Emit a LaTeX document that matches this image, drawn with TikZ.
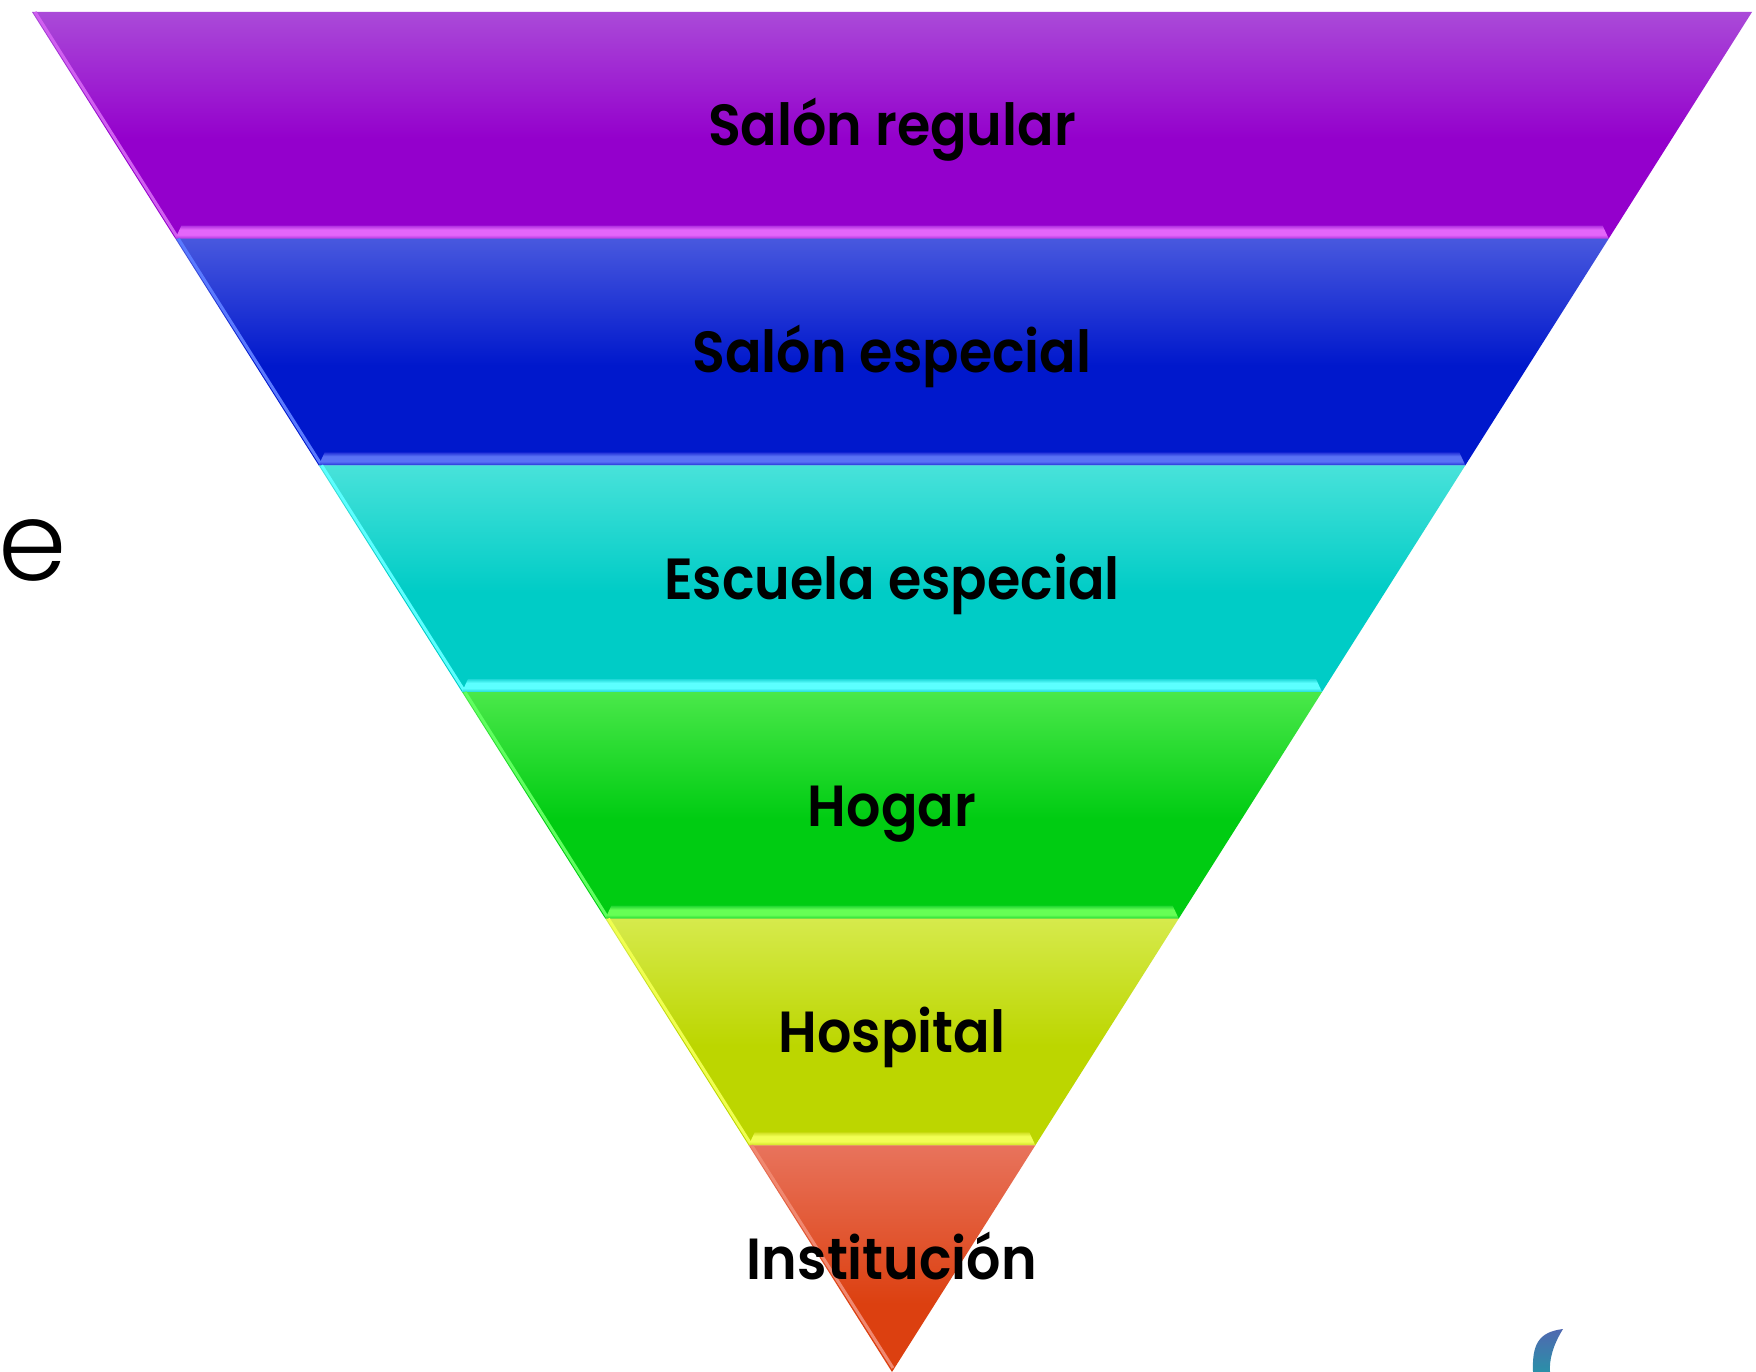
\documentclass[tikz,border=0pt]{standalone}
\usepackage{fontspec}
\newfontfamily\pops{Poppins}[UprightFont=* SemiBold]
\newfontfamily\popl{Poppins}[UprightFont=* Light]
\definecolor{puL}{HTML}{AA4AD8}\definecolor{puD}{HTML}{9400CC}\definecolor{puS}{HTML}{E466FA}\definecolor{puSd}{HTML}{B030E0}\definecolor{puE}{HTML}{D060F0}
\definecolor{buL}{HTML}{4858DE}\definecolor{buD}{HTML}{0018CC}\definecolor{buS}{HTML}{5A72F5}\definecolor{buSd}{HTML}{2030D8}\definecolor{buE}{HTML}{5A7AFF}
\definecolor{cyL}{HTML}{48E2DA}\definecolor{cyD}{HTML}{00CCC6}\definecolor{cyS}{HTML}{5CFFFF}\definecolor{cySd}{HTML}{20D8D8}\definecolor{cyE}{HTML}{5CFFFF}
\definecolor{grL}{HTML}{4AE84A}\definecolor{grD}{HTML}{00CC12}\definecolor{grS}{HTML}{66FF55}\definecolor{grSd}{HTML}{20D830}\definecolor{grE}{HTML}{60FF60}
\definecolor{yeL}{HTML}{D6EA4C}\definecolor{yeD}{HTML}{BCD600}\definecolor{yeS}{HTML}{F2FF55}\definecolor{yeSd}{HTML}{D0E020}\definecolor{yeE}{HTML}{F0FF50}
\definecolor{orL}{HTML}{E8735C}\definecolor{orD}{HTML}{DC4010}\definecolor{orE}{HTML}{F08870}
\definecolor{tealT}{HTML}{5068B0}\definecolor{tealB}{HTML}{2A90A8}
\pgfdeclareverticalshading{shpu}{100bp}{color(0bp)=(puD); color(25bp)=(puD); color(47bp)=(puD); color(75bp)=(puL); color(100bp)=(puL)}
\pgfdeclareverticalshading{shbu}{100bp}{color(0bp)=(buD); color(25bp)=(buD); color(47bp)=(buD); color(75bp)=(buL); color(100bp)=(buL)}
\pgfdeclareverticalshading{shcy}{100bp}{color(0bp)=(cyD); color(25bp)=(cyD); color(47bp)=(cyD); color(75bp)=(cyL); color(100bp)=(cyL)}
\pgfdeclareverticalshading{shgr}{100bp}{color(0bp)=(grD); color(25bp)=(grD); color(47bp)=(grD); color(75bp)=(grL); color(100bp)=(grL)}
\pgfdeclareverticalshading{shye}{100bp}{color(0bp)=(yeD); color(25bp)=(yeD); color(47bp)=(yeD); color(75bp)=(yeL); color(100bp)=(yeL)}
\pgfdeclareverticalshading{shor}{100bp}{color(0bp)=(orD); color(25bp)=(orD); color(40bp)=(orD); color(75bp)=(orL); color(100bp)=(orL)}
\pgfdeclareverticalshading{shpuS}{100bp}{color(0bp)=(puSd); color(25bp)=(puSd); color(40bp)=(puS); color(60bp)=(puS); color(75bp)=(puSd); color(100bp)=(puSd)}
\pgfdeclareverticalshading{shbuS}{100bp}{color(0bp)=(buSd); color(25bp)=(buSd); color(40bp)=(buS); color(60bp)=(buS); color(75bp)=(buSd); color(100bp)=(buSd)}
\pgfdeclareverticalshading{shcyS}{100bp}{color(0bp)=(cySd); color(25bp)=(cySd); color(40bp)=(cyS); color(60bp)=(cyS); color(75bp)=(cySd); color(100bp)=(cySd)}
\pgfdeclareverticalshading{shgrS}{100bp}{color(0bp)=(grSd); color(25bp)=(grSd); color(40bp)=(grS); color(60bp)=(grS); color(75bp)=(grSd); color(100bp)=(grSd)}
\pgfdeclareverticalshading{shyeS}{100bp}{color(0bp)=(yeSd); color(25bp)=(yeSd); color(40bp)=(yeS); color(60bp)=(yeS); color(75bp)=(yeSd); color(100bp)=(yeSd)}
\newcommand\lbltxt[1]{\scalebox{0.93}[1]{#1}}
\begin{document}
\begin{tikzpicture}[x=1pt,y=-1pt,
  lbl/.style={font=\pops\fontsize{58}{60}\selectfont, text=black, inner sep=0, anchor=base}]
\useasboundingbox (0,0) rectangle (1756,1372);
\fill[white] (0,0) rectangle (1756,1372);
% bands
\foreach \yT/\yB/\hT/\hB/\cc in {12/238.67/860/716.67/pu, 238.67/465.33/716.67/573.33/bu, 465.33/692/573.33/430/cy, 692/918.67/430/286.67/gr, 918.67/1145.33/286.67/143.33/ye}{
  \shade[shading=sh\cc] ({892-\hT},\yT) -- ({892+\hT},\yT) -- ({892+\hB},\yB) -- ({892-\hB},\yB) -- cycle;
  \draw[\cc E, line width=3pt] ({892-\hT+3},\yT) -- ({892-\hB+3},\yB);
  \shade[shading=sh\cc S] ({892-\hB},\yB) -- ({892-\hB+6},{\yB-13}) -- ({892+\hB-6},{\yB-13}) -- ({892+\hB},\yB) -- cycle;
}
\shade[shading=shor] (748.67,1145.33) -- (1035.33,1145.33) -- (892,1372) -- cycle;
\draw[orE, line width=3pt] (751.67,1145.33) -- (893,1368);
% labels
\node[lbl] (l1) at (892,146) {\lbltxt{Salón regular}};
\node[lbl] (l2) at (892,372.67) {\lbltxt{Salón especial}};
\node[lbl] (l3) at (892,599.33) {\lbltxt{Escuela especial}};
\node[lbl] (l4) at (892,826) {\lbltxt{Hogar}};
\node[lbl] (l5) at (892,1052.67) {\lbltxt{Hospital}};
\node[lbl] (l6) at (892,1279.33) {\lbltxt{Institución}};
% stray letter at left
\node[font=\popl\fontsize{110}{110}\selectfont, inner sep=0, anchor=base west] (e) at (-2,580) {e};
% fragment at bottom right
\shade[top color=tealT, bottom color=tealB] (1533,1372) .. controls (1532,1345) and (1538,1332) .. (1563,1329) .. controls (1553,1345) and (1549,1360) .. (1550,1372) -- cycle;
\end{tikzpicture}
\end{document}
